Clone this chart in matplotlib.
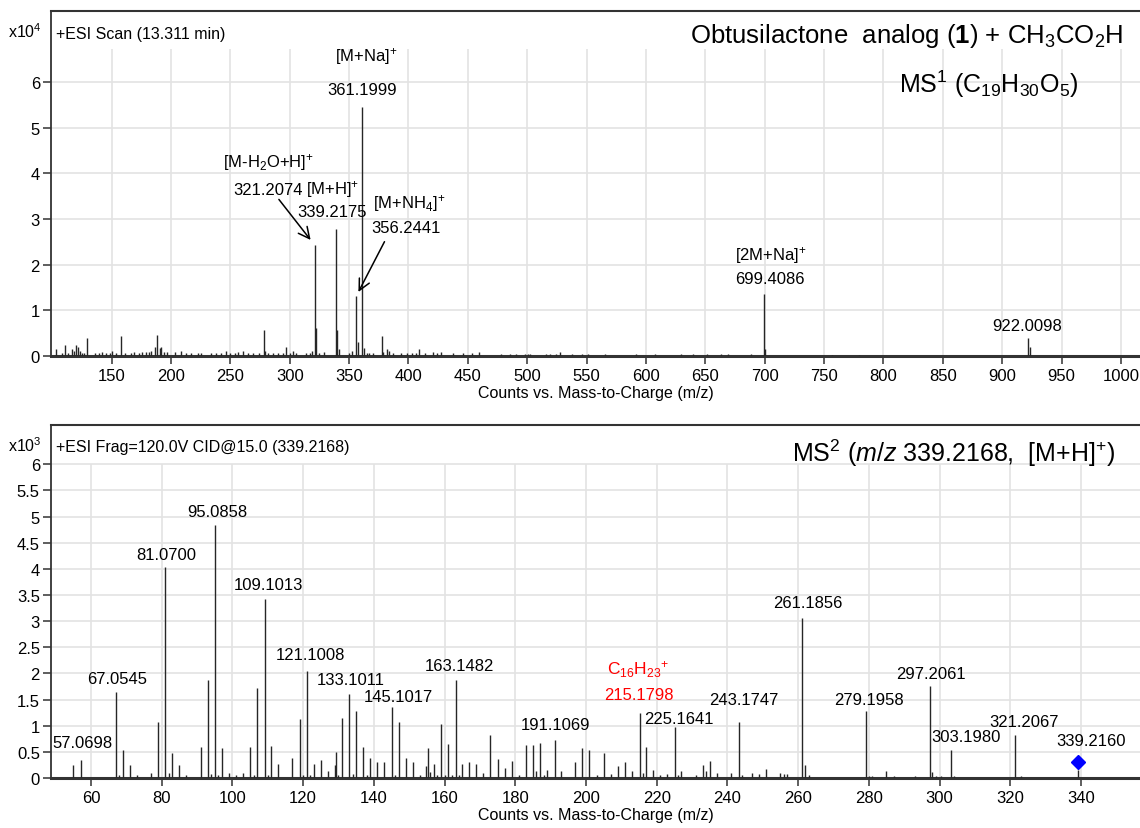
import matplotlib
matplotlib.use("Agg")
import matplotlib.pyplot as plt
import numpy as np

plt.rcParams['font.family'] = ['Liberation Sans', 'DejaVu Sans']
plt.rcParams['mathtext.fontset'] = 'custom'
plt.rcParams['mathtext.rm'] = 'Liberation Sans'
plt.rcParams['mathtext.it'] = 'Liberation Sans:italic'
plt.rcParams['mathtext.bf'] = 'Liberation Sans:bold'
plt.rcParams['mathtext.default'] = 'regular'

# ---------------- DATA ----------------
# MS1 spectrum (intensity in x10^4 counts)
ms1_mz = [103.4, 108.5, 111.2, 113.1, 116.9, 118.3, 120.3, 121.7, 123.4, 125.1,
          127.0, 129.5, 135.7, 139.3, 141.8, 145.5, 148.3, 150.5, 153.9, 158.1,
          161.7, 166.5, 169.3, 173.0, 175.8, 179.1, 181.4, 183.4, 186.2, 188.5,
          190.4, 191.8, 194.1, 196.6, 203.1, 208.7, 213.0, 217.2, 222.8, 225.6,
          234.0, 238.2, 242.5, 246.1, 249.5, 253.7, 256.5, 260.7, 264.9, 269.1,
          274.2, 278.1, 279.5, 281.7, 286.0, 290.2, 294.4, 297.2, 300.0, 302.8,
          305.0, 314.0, 316.8, 318.8, 321.2074, 322.2, 324.8, 329.0, 339.2175, 340.2,
          341.2, 349.9, 352.7, 356.2441, 357.2, 361.1999, 362.2, 364.8, 367.0, 370.4,
          377.4, 378.8, 381.6, 383.9, 386.7, 393.4, 398.5, 402.7, 406.4, 409.2,
          414.0, 421.0, 423.8, 427.2, 437.8, 445.7, 453.6, 459.2, 478.3, 485.3,
          490.4, 498.0, 500.8, 502.7, 516.2, 519.0, 524.6, 527.4, 537.3, 546.5,
          551.3, 565.3, 591.2, 607.5, 629.4, 639.8, 651.0, 663.0, 668.7, 688.3,
          699.4086, 700.4, 756.6, 779.8, 922.0098, 923.0]
ms1_int = [0.15, 0.07, 0.23, 0.06, 0.15, 0.11, 0.23, 0.20, 0.11, 0.07,
           0.07, 0.40, 0.07, 0.07, 0.09, 0.07, 0.07, 0.11, 0.07, 0.44,
           0.06, 0.06, 0.09, 0.07, 0.09, 0.09, 0.09, 0.11, 0.20, 0.47,
           0.18, 0.20, 0.09, 0.09, 0.09, 0.11, 0.07, 0.07, 0.06, 0.06,
           0.06, 0.06, 0.07, 0.11, 0.07, 0.07, 0.09, 0.11, 0.07, 0.07,
           0.07, 0.56, 0.11, 0.06, 0.06, 0.06, 0.06, 0.20, 0.07, 0.11,
           0.06, 0.06, 0.06, 0.11, 2.42, 0.62, 0.06, 0.09, 2.78, 0.56,
           0.15, 0.07, 0.11, 1.32, 0.31, 5.45, 0.18, 0.07, 0.07, 0.06,
           0.44, 0.09, 0.16, 0.11, 0.06, 0.06, 0.06, 0.06, 0.06, 0.15,
           0.06, 0.09, 0.06, 0.09, 0.06, 0.06, 0.06, 0.09, 0.04, 0.04,
           0.04, 0.05, 0.05, 0.04, 0.04, 0.04, 0.04, 0.08, 0.04, 0.04,
           0.04, 0.04, 0.04, 0.05, 0.04, 0.05, 0.04, 0.04, 0.04, 0.04,
           1.35, 0.15, 0.03, 0.03, 0.40, 0.20]

# MS2 spectrum (intensity in x10^3 counts)
ms2_mz = [55.0, 57.0698, 67.0545, 68.0, 69.0, 71.0, 73.0, 77.0, 79.0, 81.0700,
          82.0, 83.0, 85.0, 87.0, 91.0, 93.0, 94.0, 95.0858, 96.0, 97.0,
          99.0, 101.0, 103.0, 105.0, 106.0, 107.0, 109.1013, 110.0, 111.0, 113.0,
          117.0, 119.0, 120.0, 121.1008, 122.0, 123.0, 125.0, 127.0, 128.9, 129.2,
          130.0, 131.0, 133.1011, 134.0, 135.0, 137.0, 138.0, 139.0, 141.0, 143.0,
          145.1017, 146.0, 147.0, 149.0, 151.0, 153.0, 154.8, 155.2, 156.0, 157.0,
          158.0, 159.0, 160.0, 161.0, 162.0, 163.1482, 164.0, 165.0, 167.0, 169.0,
          171.0, 173.0, 175.0, 177.0, 179.0, 181.0, 183.0, 185.0, 186.0, 187.0,
          188.0, 189.0, 191.1069, 193.0, 197.0, 199.0, 201.0, 203.0, 205.0, 207.0,
          209.0, 211.0, 213.0, 215.1798, 216.0, 217.0, 219.0, 221.0, 223.0, 225.1641,
          226.0, 227.0, 231.0, 233.0, 234.0, 235.0, 237.0, 241.0, 243.1747, 244.0,
          247.0, 249.0, 251.0, 255.0, 256.0, 257.0, 261.1856, 262.0, 263.0, 279.1958,
          280.0, 281.0, 285.0, 287.0, 293.0, 297.2061, 298.0, 299.0, 300.5, 303.1980,
          304.0, 321.2067, 323.0, 339.2160]
ms2_int = [0.25, 0.35, 1.65, 0.05, 0.53, 0.25, 0.05, 0.10, 1.07, 4.03,
           0.10, 0.48, 0.25, 0.05, 0.59, 1.87, 0.08, 4.83, 0.05, 0.57,
           0.10, 0.05, 0.10, 0.59, 0.05, 1.72, 3.42, 0.05, 0.62, 0.27,
           0.38, 1.12, 0.05, 2.05, 0.05, 0.27, 0.35, 0.13, 0.25, 0.50,
           0.05, 1.14, 1.60, 0.08, 1.28, 0.59, 0.05, 0.38, 0.30, 0.30,
           1.35, 0.06, 1.07, 0.38, 0.30, 0.05, 0.22, 0.57, 0.12, 0.27,
           0.05, 1.03, 0.05, 0.65, 0.05, 1.87, 0.05, 0.27, 0.30, 0.27,
           0.10, 0.82, 0.36, 0.19, 0.33, 0.05, 0.63, 0.63, 0.14, 0.66,
           0.05, 0.16, 0.72, 0.14, 0.30, 0.57, 0.53, 0.05, 0.48, 0.08,
           0.22, 0.30, 0.13, 1.25, 0.10, 0.59, 0.16, 0.05, 0.07, 0.97,
           0.05, 0.13, 0.05, 0.24, 0.13, 0.32, 0.10, 0.10, 1.08, 0.05,
           0.10, 0.08, 0.18, 0.10, 0.07, 0.07, 3.05, 0.24, 0.06, 1.28,
           0.04, 0.04, 0.13, 0.04, 0.04, 1.75, 0.11, 0.04, 0.04, 0.53,
           0.03, 0.82, 0.04, 0.16]
precursor_mz = 339.2160
precursor_marker_y = 0.30

# labelled peaks
ms1_labels = [321.2074, 339.2175, 356.2441, 361.1999, 699.4086, 922.0098]
ms1_ions = {321.2074: '[M-H$_2$O+H]$^{+}$', 339.2175: '[M+H]$^{+}$',
            356.2441: '[M+NH$_4$]$^{+}$', 361.1999: '[M+Na]$^{+}$',
            699.4086: '[2M+Na]$^{+}$'}
ms2_labels = [57.0698, 67.0545, 81.0700, 95.0858, 109.1013, 121.1008, 133.1011,
              145.1017, 163.1482, 191.1069, 215.1798, 225.1641, 243.1747,
              261.1856, 279.1958, 297.2061, 303.1980, 321.2067, 339.2160]

assert len(ms1_mz) == len(ms1_int) and len(ms2_mz) == len(ms2_int)

# ---------------- LAYOUT ----------------
W, H = 1140, 829
fig = plt.figure(figsize=(W / 100, H / 100), dpi=100)

def fx(px):
    return px / W

def fy(py):
    return 1 - py / H

ax1 = fig.add_axes([fx(51), fy(357), fx(W - 51), (357 - 12) / H])
ax2 = fig.add_axes([fx(51), fy(779), fx(W - 51), (779 - 426) / H])

spine_c = '#333333'
grid_c = '#e3e3e3'
peak_c = '#262626'

def style_axes(ax, xlim, ylim, xticks, yticks, grid_top, ylabels):
    ax.set_xlim(*xlim)
    ax.set_ylim(*ylim)
    ax.set_xticks(xticks)
    ax.set_yticks(yticks)
    ax.set_yticklabels(ylabels)
    ax.hlines(yticks[1:], xlim[0], xlim[1], colors=grid_c, lw=1.2, zorder=0)
    ax.vlines(xticks, 0, grid_top, colors=grid_c, lw=1.2, zorder=0)
    ax.spines['right'].set_visible(False)
    ax.spines['top'].set_color(spine_c)
    ax.spines['top'].set_linewidth(1.5)
    ax.spines['left'].set_color(spine_c)
    ax.spines['left'].set_linewidth(1.3)
    ax.spines['bottom'].set_color(spine_c)
    ax.spines['bottom'].set_linewidth(2.2)
    ax.tick_params(axis='both', direction='out', color=spine_c, labelsize=12,
                   length=6, width=1.1)
    ax.tick_params(axis='y', pad=2)
    ax.tick_params(axis='x', pad=3)
    ax.set_xlabel('Counts vs. Mass-to-Charge (m/z)', fontsize=11.5, labelpad=1)

# ---- top panel ----
style_axes(ax1, (99, 1016), (0, 7.55), list(range(150, 1001, 50)), list(range(0, 7)),
           6.72, [str(v) for v in range(0, 7)])
ax1.vlines(ms1_mz, 0, ms1_int, colors=peak_c, lw=1.0, zorder=3)

ms1_h = dict(zip(ms1_mz, ms1_int))
# (dx, dy) offsets in pixels for value label and ion label
ms1_off = {321.2074: ((-47, 56), (-46, 84)),
           339.2175: ((-4, 17), (-4, 40)),
           356.2441: ((50, 68), (53, 93)),
           361.1999: ((0, 17), (4, 51)),
           699.4086: ((6, 16), (7, 40)),
           922.0098: ((-1, 12), None)}
for mz in ms1_labels:
    (dx, dy), ion_off = ms1_off[mz]
    ax1.annotate(f'{mz:.4f}', (mz, ms1_h[mz]), xytext=(dx, dy),
                 textcoords='offset pixels', ha='center', va='center', fontsize=12)
    if ion_off is not None:
        ax1.annotate(ms1_ions[mz], (mz, ms1_h[mz]), xytext=ion_off,
                     textcoords='offset pixels', ha='center', va='center', fontsize=12)

arrow_kw = dict(arrowstyle='->', lw=1.1, color='black', mutation_scale=20, shrinkA=0)
ax1.annotate('', xy=(321.2074, ms1_h[321.2074]), xytext=(-36, 46),
             textcoords='offset pixels',
             arrowprops=dict(arrow_kw, shrinkB=5))
ax1.annotate('', xy=(356.2441, ms1_h[356.2441]), xytext=(28, 54),
             textcoords='offset pixels',
             arrowprops=dict(arrow_kw, shrinkB=3))

# ---- bottom panel ----
yt2 = [v / 2 for v in range(0, 13)]
style_axes(ax2, (48.7, 356.7), (0, 6.75), list(range(60, 341, 20)), yt2,
           6.0, [('%g' % v) for v in yt2])
ax2.vlines(ms2_mz, 0, ms2_int, colors=peak_c, lw=1.0, zorder=3)
ax2.plot([precursor_mz], [precursor_marker_y], marker='D', color='#0000ff',
         markersize=7, ls='none', zorder=4)

ms2_h = dict(zip(ms2_mz, ms2_int))
ms2_off = {57.0698: (2, 17), 67.0545: (1.5, 13), 81.0700: (1, 12.5),
           95.0858: (2, 14), 109.1013: (4, 15), 121.1008: (3, 16),
           133.1011: (1, 15), 145.1017: (7, 11), 163.1482: (4, 14.5),
           191.1069: (1, 16), 215.1798: (-1, 18), 225.1641: (4, 8.5),
           243.1747: (5, 22.5), 261.1856: (5.5, 16), 279.1958: (2.5, 12),
           297.2061: (1.5, 12.5), 303.1980: (15.5, 14), 321.2067: (10, 13.5),
           339.2160: (12.5, 29)}
for mz in ms2_labels:
    c = 'red' if mz == 215.1798 else 'black'
    ax2.annotate(f'{mz:.4f}', (mz, ms2_h[mz]), xytext=ms2_off[mz],
                 textcoords='offset pixels', ha='center', va='center',
                 fontsize=12, color=c)
ax2.annotate('C$_{16}$H$_{23}$$^{+}$', (215.1798, ms2_h[215.1798]), xytext=(-1.5, 44),
             textcoords='offset pixels', ha='center', va='center',
             fontsize=12.5, color='red')

# ---- headers / titles ----
fig.text(fx(8), fy(38.5), 'x10$^4$', fontsize=11.5, ha='left', va='baseline')
fig.text(fx(56), fy(38.5), '+ESI Scan (13.311 min)', fontsize=11.5, ha='left', va='baseline')
fig.text(fx(1123), fy(43.5), r'Obtusilactone  analog ($\mathbf{1}$) + CH$_3$CO$_2$H',
         fontsize=18.5, ha='right', va='baseline')
fig.text(fx(1078), fy(92.5), 'MS$^1$ (C$_{19}$H$_{30}$O$_5$)',
         fontsize=18, ha='right', va='baseline')

fig.text(fx(8), fy(452), 'x10$^3$', fontsize=11.5, ha='left', va='baseline')
fig.text(fx(56), fy(452), '+ESI Frag=120.0V CID@15.0 (339.2168)', fontsize=11.5,
         ha='left', va='baseline')
fig.text(fx(1115), fy(462), r'MS$^2$ ($\mathit{m/z}$ 339.2168,  [M+H]$^{+}$)',
         fontsize=18, ha='right', va='baseline')

fig.savefig('out.png', dpi=100)
